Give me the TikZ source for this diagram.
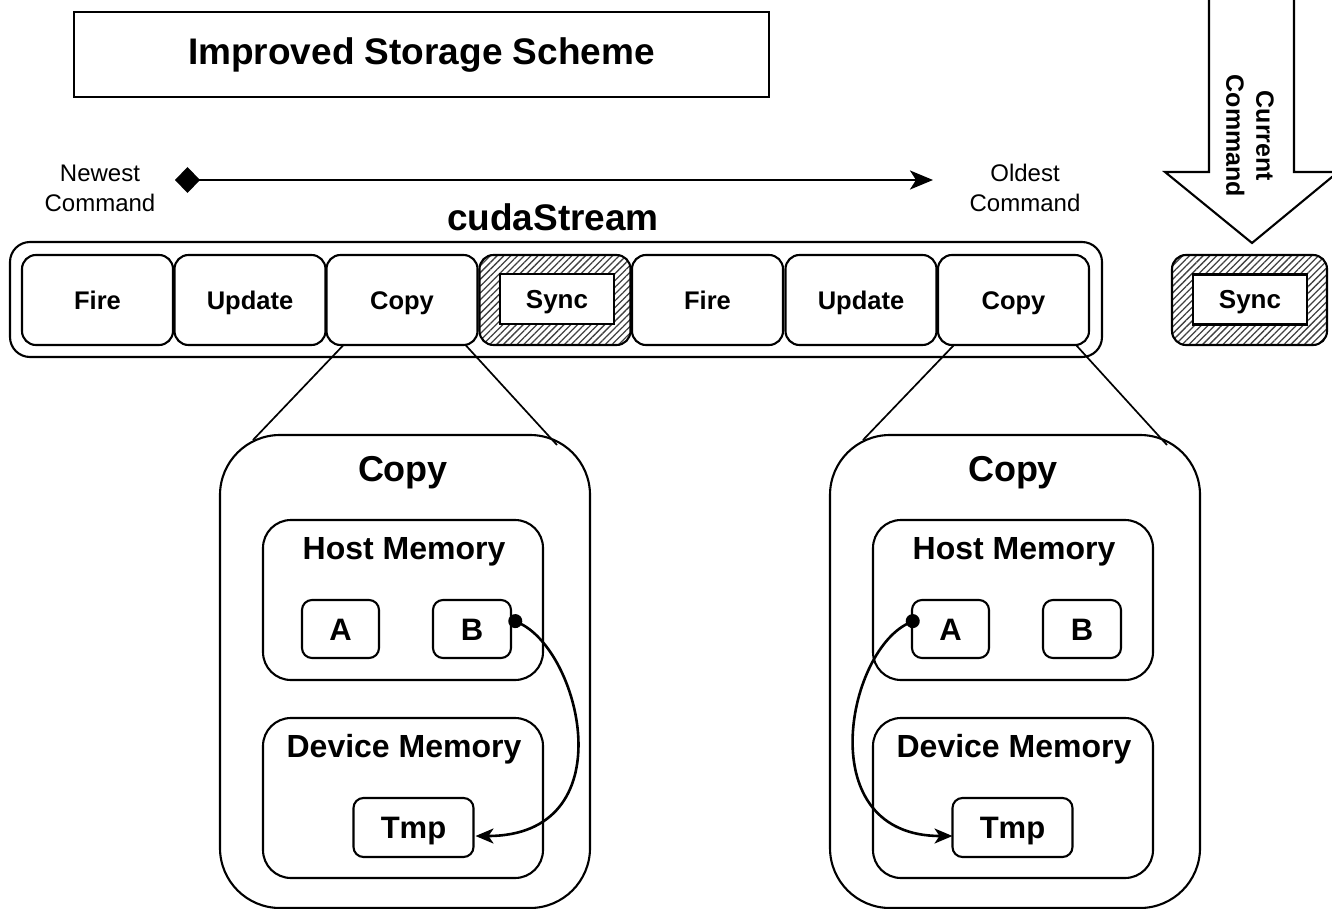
\documentclass[tikz,border=0pt]{standalone}
\usepackage{fontspec}
\setmainfont{Liberation Sans}
\usetikzlibrary{arrows.meta,patterns.meta,calc}

\begin{document}
\begin{tikzpicture}[x=1pt,y=-1pt,
  every node/.style={inner sep=0pt, outer sep=0pt},
  frame/.style={draw, line width=2.1pt},
  cmdbox/.style={frame, rounded corners=14pt, minimum width=151pt, minimum height=90pt,
    font=\fontsize{25.5}{30}\selectfont\bfseries, text height=18.3pt, text depth=0pt},
  hatched/.style={frame, rounded corners=14pt, minimum height=90pt,
    pattern={Lines[angle=45, distance=4.8pt, line width=1.3pt]}, pattern color=black!75},
  syncbox/.style={frame, fill=white, minimum width=114pt, minimum height=50pt,
    font=\fontsize{26}{30}\selectfont\bfseries, text height=18.6pt, text depth=0pt},
  bigbox/.style={frame, rounded corners=60pt, minimum width=370pt, minimum height=473pt},
  membox/.style={frame, rounded corners=28pt, minimum width=280pt, minimum height=160pt},
  cell/.style={frame, rounded corners=10pt, minimum height=58pt,
    font=\fontsize{31}{36}\selectfont\bfseries, text height=22.2pt, text depth=0pt},
  biglabel/.style={font=\fontsize{36}{42}\selectfont\bfseries, text height=25.8pt, text depth=0pt},
  memlabel/.style={font=\fontsize{32}{38}\selectfont\bfseries, text height=22.9pt, text depth=0pt},
  zoomline/.style={line width=1.7pt},
  conn/.style={line width=2.6pt},
  transfer/.style={conn, {Circle[length=14pt,width=14pt]}-{Stealth[length=18pt,width=15pt,inset=5pt]}}
]
\useasboundingbox (0,0) rectangle (1332,909);

% title
\node[frame, minimum width=695pt, minimum height=85pt,
  font=\fontsize{37}{44}\selectfont\bfseries, text height=26.5pt, text depth=7pt]
  (title) at (421.5,54.5) {Improved Storage Scheme};

% time line from newest to oldest command
\node[font=\fontsize{24}{30}\selectfont, align=center] (newest) at (100,188) {Newest\\Command};
\node[font=\fontsize{24}{30}\selectfont, align=center] (oldest) at (1025,188) {Oldest\\Command};
\coordinate (tl-start) at (175,180);
\coordinate (tl-end) at (933,180);
\draw[line width=2.3pt, {Diamond[length=25pt,width=26pt]}-{Stealth[length=23pt,width=19pt,inset=6pt]}]
  (tl-start) -- (tl-end);

% the stream
\node[font=\fontsize{37}{44}\selectfont\bfseries, text height=26.5pt, text depth=0pt]
  (streamlabel) at (553,217) {cudaStream};
\node[frame, rounded corners=20pt, minimum width=1092pt, minimum height=115pt] (stream) at (556,299.5) {};

\node[cmdbox] (c1) at (97.5,300) {Fire};
\node[cmdbox] (c2) at (250,300) {Update};
\node[cmdbox] (c3) at (402,300) {Copy};
\node[hatched, minimum width=151pt] (c4) at (555,300) {};
\node[syncbox] (c4in) at (557,299) {Sync};
\node[cmdbox] (c5) at (707.5,300) {Fire};
\node[cmdbox] (c6) at (861,300) {Update};
\node[cmdbox] (c7) at (1013.5,300) {Copy};

% current command
\draw[frame, fill=white] (1209,-5) -- (1209,172) -- (1165,172) -- (1252,243)
  -- (1338,172) -- (1294,172) -- (1294,-5);
\node[font=\fontsize{25}{30}\selectfont\bfseries, align=center, rotate=-90]
  (current) at (1250,136) {Current\\Command};
\node[hatched, minimum width=155pt] (cur) at (1249.5,300) {};
\node[syncbox] (curin) at (1250,299.5) {Sync};

% first copy, expanded
\node[bigbox] (big1) at (405,671.5) {};
\node[biglabel] (big1lab) at (403,469) {Copy};
\node[membox] (host1) at (403,600) {};
\node[memlabel] (host1lab) at (404,548) {Host Memory};
\node[cell, minimum width=77pt] (a1) at (340.5,629) {A};
\node[cell, minimum width=78pt] (b1) at (472,629) {B};
\node[membox] (dev1) at (403,798) {};
\node[memlabel] (dev1lab) at (404,746) {Device Memory};
\node[cell, minimum width=120pt, minimum height=59pt] (t1) at (413.5,827.5) {Tmp};

% second copy, expanded
\node[bigbox] (big2) at (1015,671.5) {};
\node[biglabel] (big2lab) at (1013,469) {Copy};
\node[membox] (host2) at (1013,600) {};
\node[memlabel] (host2lab) at (1014,548) {Host Memory};
\node[cell, minimum width=77pt] (a2) at (950.5,629) {A};
\node[cell, minimum width=78pt] (b2) at (1082,629) {B};
\node[membox] (dev2) at (1013,798) {};
\node[memlabel] (dev2lab) at (1014,746) {Device Memory};
\node[cell, minimum width=120pt, minimum height=59pt] (t2) at (1012.5,827.5) {Tmp};

% zoom lines
\draw[zoomline] ($(c3.south west)+(17,0)$) -- ($(big1.north west)+(33,5)$);
\draw[zoomline] ($(c3.south east)+(-12,0)$) -- ($(big1.north east)+(-33,10)$);
\draw[zoomline] ($(c7.south west)+(16,0)$) -- ($(big2.north west)+(33,5)$);
\draw[zoomline] ($(c7.south east)+(-13,0)$) -- ($(big2.north east)+(-33,10)$);

% transfers
\draw[transfer]
  ($(b1.east)+(-2,-11)$) .. controls +(73,36) and +(149,0) .. ($(t1.east)+(2,8.5)$);
\draw[transfer]
  ($(a2.west)+(7,-11)$) .. controls +(-73,36) and +(-141,0) .. ($(t2.west)+(0,8.5)$);
\end{tikzpicture}
\end{document}
